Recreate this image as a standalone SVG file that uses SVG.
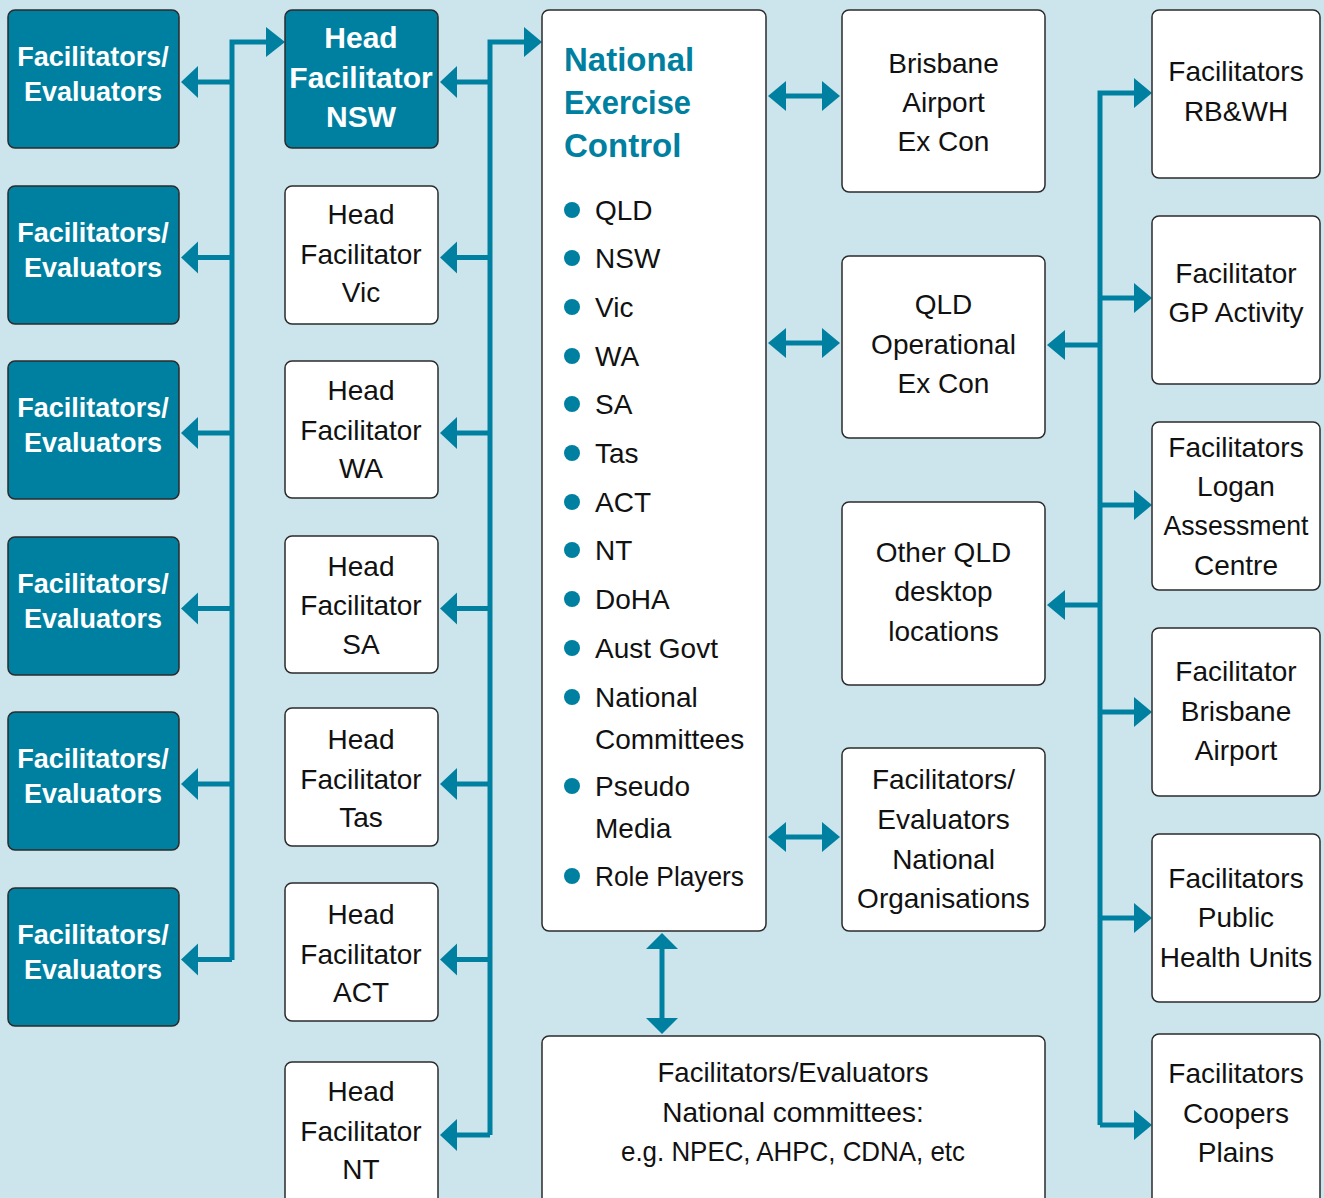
<svg xmlns="http://www.w3.org/2000/svg" width="1324" height="1198" viewBox="0 0 1324 1198">
<style>
.bg{fill:#cce5ec}
.tb{fill:#0080a0;stroke:#2b2b2b;stroke-width:1.5}
.wb{fill:#ffffff;stroke:#2b2b2b;stroke-width:1.5}
.ln{fill:none;stroke:#0080a0;stroke-width:5}
.ah{fill:#0080a0}
.tw{font-family:"Liberation Sans",Arial,sans-serif;font-weight:bold;font-size:27px;fill:#ffffff;text-anchor:middle}
.th{font-family:"Liberation Sans",Arial,sans-serif;font-weight:bold;font-size:30px;fill:#ffffff;text-anchor:middle}
.t{font-family:"Liberation Sans",Arial,sans-serif;font-size:28px;fill:#111111;text-anchor:middle}
.tl{font-family:"Liberation Sans",Arial,sans-serif;font-size:28px;fill:#111111}
.ttl{font-family:"Liberation Sans",Arial,sans-serif;font-weight:bold;font-size:33px;fill:#0080a0}
.dot{fill:#0080a0}
</style>
<rect class="bg" x="0" y="0" width="1324" height="1198"/>

<g id="connectors">
  <!-- left trunk -->
  <path class="ln" d="M232,960 V42 H267"/>
  <polygon class="ah" points="285,42 266,27 266,57"/>
  <path class="ln" d="M232,82 H197 M232,257.5 H197 M232,433 H197 M232,608.5 H197 M232,784 H197 M232,959.5 H197"/>
  <polygon class="ah" points="181,82 198,66 198,98"/>
  <polygon class="ah" points="181,257.5 198,241.5 198,273.5"/>
  <polygon class="ah" points="181,433 198,417 198,449"/>
  <polygon class="ah" points="181,608.5 198,592.5 198,624.5"/>
  <polygon class="ah" points="181,784 198,768 198,800"/>
  <polygon class="ah" points="181,959.5 198,943.5 198,975.5"/>
  <!-- middle trunk -->
  <path class="ln" d="M490,1135 V42 H524"/>
  <polygon class="ah" points="542,42 524,27 524,57"/>
  <path class="ln" d="M490,82 H456 M490,257.5 H456 M490,433 H456 M490,608.5 H456 M490,784 H456 M490,959.5 H456 M490,1135 H456"/>
  <polygon class="ah" points="440,82 457,66 457,98"/>
  <polygon class="ah" points="440,257.5 457,241.5 457,273.5"/>
  <polygon class="ah" points="440,433 457,417 457,449"/>
  <polygon class="ah" points="440,608.5 457,592.5 457,624.5"/>
  <polygon class="ah" points="440,784 457,768 457,800"/>
  <polygon class="ah" points="440,959.5 457,943.5 457,975.5"/>
  <polygon class="ah" points="440,1135 457,1119 457,1151"/>
  <!-- NEC double arrows -->
  <path class="ln" d="M785,96 H823 M785,343 H823 M785,837 H823"/>
  <polygon class="ah" points="768,96 786,81 786,111"/>
  <polygon class="ah" points="840,96 822,81 822,111"/>
  <polygon class="ah" points="768,343 786,328 786,358"/>
  <polygon class="ah" points="840,343 822,328 822,358"/>
  <polygon class="ah" points="768,837 786,822 786,852"/>
  <polygon class="ah" points="840,837 822,822 822,852"/>
  <!-- vertical double arrow -->
  <path class="ln" d="M662,949 V1018"/>
  <polygon class="ah" points="662,933 646,949 678,949"/>
  <polygon class="ah" points="662,1034 646,1018 678,1018"/>
  <!-- right trunk -->
  <path class="ln" d="M1100,1125 V93 H1135"/>
  <polygon class="ah" points="1152,93 1134,78 1134,108"/>
  <path class="ln" d="M1100,298 H1135 M1100,505 H1135 M1100,712 H1135 M1100,918 H1135 M1100,1125 H1135"/>
  <polygon class="ah" points="1152,298 1134,283 1134,313"/>
  <polygon class="ah" points="1152,505 1134,490 1134,520"/>
  <polygon class="ah" points="1152,712 1134,697 1134,727"/>
  <polygon class="ah" points="1152,918 1134,903 1134,933"/>
  <polygon class="ah" points="1152,1125 1134,1110 1134,1140"/>
  <path class="ln" d="M1100,345 H1064 M1100,605 H1064"/>
  <polygon class="ah" points="1047,345 1065,330 1065,360"/>
  <polygon class="ah" points="1047,605 1065,590 1065,620"/>
</g>

<!-- left column -->
<g id="fe1"><rect class="tb" x="8" y="10" width="171" height="138" rx="7"/><text class="tw" x="93" y="66">Facilitators/</text><text class="tw" x="93" y="101">Evaluators</text></g>
<g id="fe2"><rect class="tb" x="8" y="186" width="171" height="138" rx="7"/><text class="tw" x="93" y="242">Facilitators/</text><text class="tw" x="93" y="277">Evaluators</text></g>
<g id="fe3"><rect class="tb" x="8" y="361" width="171" height="138" rx="7"/><text class="tw" x="93" y="417">Facilitators/</text><text class="tw" x="93" y="452">Evaluators</text></g>
<g id="fe4"><rect class="tb" x="8" y="537" width="171" height="138" rx="7"/><text class="tw" x="93" y="593">Facilitators/</text><text class="tw" x="93" y="628">Evaluators</text></g>
<g id="fe5"><rect class="tb" x="8" y="712" width="171" height="138" rx="7"/><text class="tw" x="93" y="768">Facilitators/</text><text class="tw" x="93" y="803">Evaluators</text></g>
<g id="fe6"><rect class="tb" x="8" y="888" width="171" height="138" rx="7"/><text class="tw" x="93" y="944">Facilitators/</text><text class="tw" x="93" y="979">Evaluators</text></g>

<!-- head column -->
<g id="head-nsw"><rect class="tb" x="285" y="10" width="153" height="138" rx="7"/><text class="th" x="361" y="48">Head</text><text class="th" x="361" y="88">Facilitator</text><text class="th" x="361" y="127">NSW</text></g>
<g id="head-vic"><rect class="wb" x="285" y="186" width="153" height="138" rx="7"/><text class="t" x="361" y="224">Head</text><text class="t" x="361" y="264">Facilitator</text><text class="t" x="361" y="302">Vic</text></g>
<g id="head-wa"><rect class="wb" x="285" y="361" width="153" height="137" rx="7"/><text class="t" x="361" y="400">Head</text><text class="t" x="361" y="440">Facilitator</text><text class="t" x="361" y="478">WA</text></g>
<g id="head-sa"><rect class="wb" x="285" y="536" width="153" height="137" rx="7"/><text class="t" x="361" y="576">Head</text><text class="t" x="361" y="615">Facilitator</text><text class="t" x="361" y="654">SA</text></g>
<g id="head-tas"><rect class="wb" x="285" y="708" width="153" height="138" rx="7"/><text class="t" x="361" y="749">Head</text><text class="t" x="361" y="789">Facilitator</text><text class="t" x="361" y="827">Tas</text></g>
<g id="head-act"><rect class="wb" x="285" y="883" width="153" height="138" rx="7"/><text class="t" x="361" y="924">Head</text><text class="t" x="361" y="964">Facilitator</text><text class="t" x="361" y="1002">ACT</text></g>
<g id="head-nt"><rect class="wb" x="285" y="1062" width="153" height="150" rx="7"/><text class="t" x="361" y="1101">Head</text><text class="t" x="361" y="1141">Facilitator</text><text class="t" x="361" y="1179">NT</text></g>

<!-- National Exercise Control -->
<g id="nec">
  <rect class="wb" x="542" y="10" width="224" height="921" rx="7"/>
  <text class="ttl" x="564" y="71">National</text>
  <text class="ttl" x="564" y="114" textLength="127" lengthAdjust="spacingAndGlyphs">Exercise</text>
  <text class="ttl" x="564" y="157">Control</text>
  <circle class="dot" cx="572" cy="210" r="8"/><text class="tl" x="595" y="220">QLD</text>
  <circle class="dot" cx="572" cy="258" r="8"/><text class="tl" x="595" y="268">NSW</text>
  <circle class="dot" cx="572" cy="307" r="8"/><text class="tl" x="595" y="317">Vic</text>
  <circle class="dot" cx="572" cy="356" r="8"/><text class="tl" x="595" y="366">WA</text>
  <circle class="dot" cx="572" cy="404" r="8"/><text class="tl" x="595" y="414">SA</text>
  <circle class="dot" cx="572" cy="453" r="8"/><text class="tl" x="595" y="463">Tas</text>
  <circle class="dot" cx="572" cy="502" r="8"/><text class="tl" x="595" y="512">ACT</text>
  <circle class="dot" cx="572" cy="550" r="8"/><text class="tl" x="595" y="560">NT</text>
  <circle class="dot" cx="572" cy="599" r="8"/><text class="tl" x="595" y="609">DoHA</text>
  <circle class="dot" cx="572" cy="648" r="8"/><text class="tl" x="595" y="658">Aust Govt</text>
  <circle class="dot" cx="572" cy="697" r="8"/><text class="tl" x="595" y="707">National</text><text class="tl" x="595" y="749">Committees</text>
  <circle class="dot" cx="572" cy="786" r="8"/><text class="tl" x="595" y="796">Pseudo</text><text class="tl" x="595" y="838">Media</text>
  <circle class="dot" cx="572" cy="876" r="8"/><text class="tl" x="595" y="886" textLength="149" lengthAdjust="spacingAndGlyphs">Role Players</text>
</g>

<!-- middle-right column -->
<g id="brisbane-excon"><rect class="wb" x="842" y="10" width="203" height="182" rx="7"/><text class="t" x="943.5" y="73">Brisbane</text><text class="t" x="943.5" y="112">Airport</text><text class="t" x="943.5" y="151">Ex Con</text></g>
<g id="qld-op"><rect class="wb" x="842" y="256" width="203" height="182" rx="7"/><text class="t" x="943.5" y="314">QLD</text><text class="t" x="943.5" y="354">Operational</text><text class="t" x="943.5" y="393">Ex Con</text></g>
<g id="other-qld"><rect class="wb" x="842" y="502" width="203" height="183" rx="7"/><text class="t" x="943.5" y="562">Other QLD</text><text class="t" x="943.5" y="601">desktop</text><text class="t" x="943.5" y="641">locations</text></g>
<g id="fe-national-orgs"><rect class="wb" x="842" y="748" width="203" height="183" rx="7"/><text class="t" x="943.5" y="789">Facilitators/</text><text class="t" x="943.5" y="829">Evaluators</text><text class="t" x="943.5" y="869">National</text><text class="t" x="943.5" y="908">Organisations</text></g>

<!-- bottom box -->
<g id="fe-national-committees"><rect class="wb" x="542" y="1036" width="503" height="180" rx="7"/><text class="t" x="793" y="1082" textLength="271" lengthAdjust="spacingAndGlyphs">Facilitators/Evaluators</text><text class="t" x="793" y="1122">National committees:</text><text class="t" x="793" y="1161" textLength="344" lengthAdjust="spacingAndGlyphs">e.g. NPEC, AHPC, CDNA, etc</text></g>

<!-- right column -->
<g id="rbwh"><rect class="wb" x="1152" y="10" width="168" height="168" rx="7"/><text class="t" x="1236" y="81">Facilitators</text><text class="t" x="1236" y="121">RB&amp;WH</text></g>
<g id="gp"><rect class="wb" x="1152" y="216" width="168" height="168" rx="7"/><text class="t" x="1236" y="283">Facilitator</text><text class="t" x="1236" y="322">GP Activity</text></g>
<g id="logan"><rect class="wb" x="1152" y="422" width="168" height="168" rx="7"/><text class="t" x="1236" y="457">Facilitators</text><text class="t" x="1236" y="496">Logan</text><text class="t" x="1236" y="535" textLength="145" lengthAdjust="spacingAndGlyphs">Assessment</text><text class="t" x="1236" y="575">Centre</text></g>
<g id="bris-airport"><rect class="wb" x="1152" y="628" width="168" height="168" rx="7"/><text class="t" x="1236" y="681">Facilitator</text><text class="t" x="1236" y="721">Brisbane</text><text class="t" x="1236" y="760">Airport</text></g>
<g id="phu"><rect class="wb" x="1152" y="834" width="168" height="168" rx="7"/><text class="t" x="1236" y="888">Facilitators</text><text class="t" x="1236" y="927">Public</text><text class="t" x="1236" y="967">Health Units</text></g>
<g id="coopers"><rect class="wb" x="1152" y="1034" width="168" height="180" rx="7"/><text class="t" x="1236" y="1083">Facilitators</text><text class="t" x="1236" y="1123">Coopers</text><text class="t" x="1236" y="1162">Plains</text></g>
</svg>
